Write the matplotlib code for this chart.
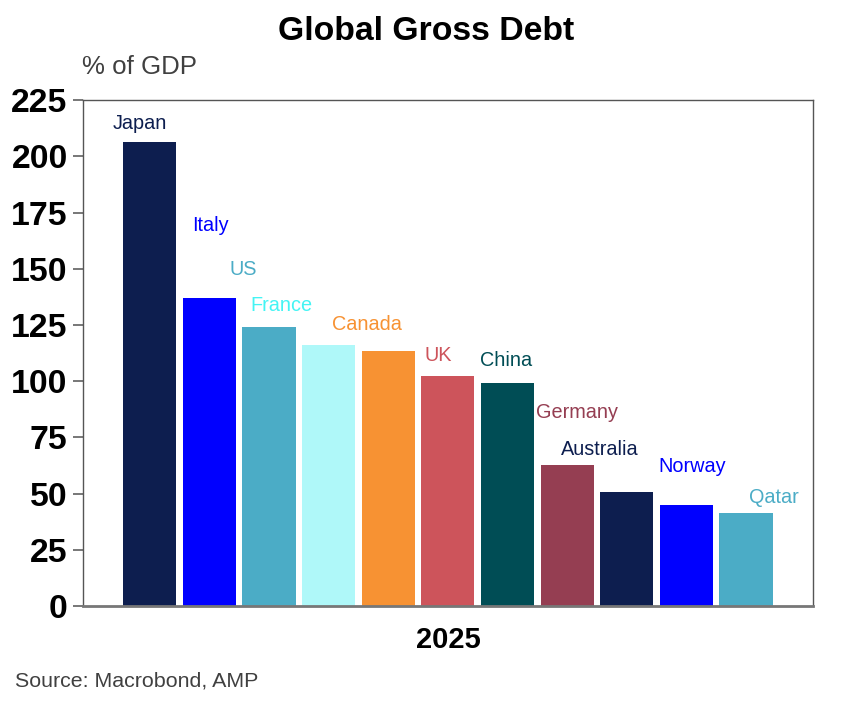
import matplotlib
matplotlib.use("Agg")
import matplotlib.pyplot as plt

plt.rcParams['font.family'] = ['Liberation Sans', 'DejaVu Sans']

countries = ['Japan', 'Italy', 'US', 'France', 'Canada', 'UK', 'China',
             'Germany', 'Australia', 'Norway', 'Qatar']
debt = [206.3, 137.2, 123.9, 115.9, 113.6, 102.5, 99.4, 62.8, 50.8, 45.0, 41.4]
bar_colors = ['#0D1E4F', '#0000FF', '#4BACC6', '#AFF8F9', '#F79233', '#CD545B',
              '#004D55', '#953E52', '#0D1E4F', '#0000FF', '#4BACC6']
label_colors = ['#0D1E4F', '#0000FF', '#4BACC6', '#44F4F4', '#F79233', '#CD545B',
                '#004D55', '#953E52', '#0D1E4F', '#0000FF', '#4BACC6']
# where each country label sits (x in bar units, y in % of GDP)
label_x = [-0.17, 1.01, 1.57, 2.20, 3.64, 4.83, 5.97, 7.16, 7.54, 9.10, 10.46]
label_y = [214.4, 169.3, 149.6, 133.5, 125.1, 111.2, 109.4, 86.2, 69.7, 62.0, 48.1]
yticks = [0, 25, 50, 75, 100, 125, 150, 175, 200, 225]

fig = plt.figure(figsize=(8.52, 7.10), dpi=100)
ax = fig.add_axes([0.0974, 0.1465, 0.8566, 0.7125])

pos = list(range(len(countries)))
ax.bar(pos, debt, width=0.89, color=bar_colors)

for i, name in enumerate(countries):
    ax.text(label_x[i], label_y[i], name, color=label_colors[i], fontsize=14.3,
            ha='center', va='center')

ax.set_xlim(-1.12, 11.12)
ax.set_ylim(0, 225)
ax.set_yticks(yticks)
ax.set_yticklabels([str(t) for t in yticks], fontsize=24.3, fontweight='bold')
ax.set_xticks([])
ax.tick_params(axis='y', length=7, width=1.2, color='#606060', pad=4)

for side in ['top', 'right', 'left']:
    ax.spines[side].set_color('#555555')
    ax.spines[side].set_linewidth(1.0)
ax.spines['bottom'].set_color('#777777')
ax.spines['bottom'].set_linewidth(2.0)

fig.text(0.5, 0.955, 'Global Gross Debt', ha='center', va='center',
         fontsize=24.3, fontweight='bold')
fig.text(0.096, 0.905, '% of GDP', ha='left', va='center', fontsize=18.6,
         color='#404040')
fig.text(0.526, 0.098, '2025', ha='center', va='center', fontsize=21,
         fontweight='bold')
fig.text(0.018, 0.041, 'Source: Macrobond, AMP', ha='left', va='center',
         fontsize=15.4, color='#404040')

fig.savefig('out.png', dpi=100)
